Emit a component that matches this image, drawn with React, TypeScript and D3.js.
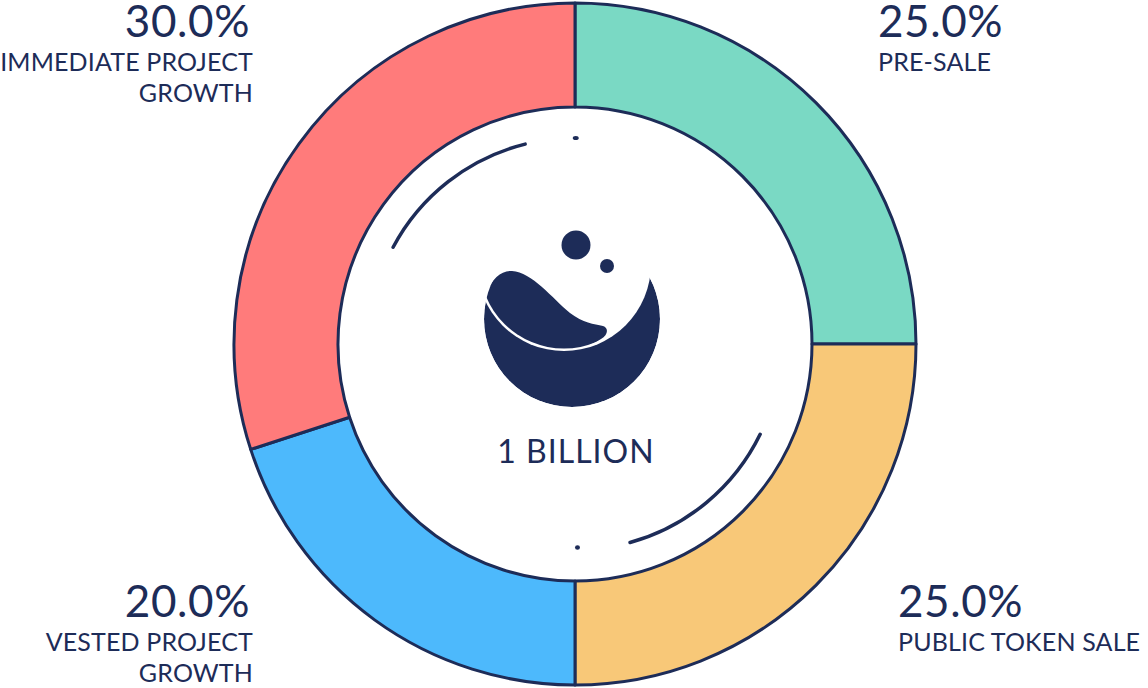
import React from "react";
import * as d3 from "d3";

const categories = ["PRE-SALE", "PUBLIC TOKEN SALE", "VESTED PROJECT GROWTH", "IMMEDIATE PROJECT GROWTH"];
const values = [25, 25, 20, 30];
const colors = ["#7ad9c4", "#f8c878", "#4db9fc", "#ff7b7b"];
const labelLines = [["PRE-SALE"], ["PUBLIC TOKEN SALE"], ["VESTED PROJECT", "GROWTH"], ["IMMEDIATE PROJECT", "GROWTH"]];
const centerText = "1 BILLION";

const W = 1148, H = 688;
const cx = 575, cy = 344;
const R = 341, r = 237;
const NAVY = "#1d2c58";
const FONT = "Lato, 'Open Sans', sans-serif";

// label placements per slice: [x, y of percent baseline, anchor]
const labelPos: [number, number, "start" | "end"][] = [
  [878, 37, "start"],
  [898, 617, "start"],
  [250, 617, "end"],
  [250, 37, "end"],
];

export default function App() {
  const total = d3.sum(values);
  const pie = d3.pie<number>().sort(null).startAngle(0).endAngle(2 * Math.PI);
  const arcs = pie(values);
  const arcGen = d3.arc<d3.PieArcDatum<number>>().innerRadius(r).outerRadius(R);
  const deg = (d: number) => (d * Math.PI) / 180;
  const pt = (a: number, rad: number) => [cx + rad * Math.sin(deg(a)), cy - rad * Math.cos(deg(a))];
  const decoArc = (a0: number, a1: number) => {
    const p = d3.path();
    p.arc(cx, cy, 206, deg(a0 - 90), deg(a1 - 90), false);
    return p.toString();
  };
  const fmt = d3.format(".1%");

  // logo geometry
  const bowl = { x: 572, y: 319, r: 88 };
  const cut = { x: 564, y: 264, r: 87 };

  return (
    <svg width={W} height={H} style={{ position: "absolute", left: 0, top: 0, background: "#fff" }}>
      <defs>
        <mask id="bowlMask" maskUnits="userSpaceOnUse" x={0} y={0} width={W} height={H}>
          <circle cx={bowl.x} cy={bowl.y} r={bowl.r} fill="#fff" />
          <circle cx={cut.x} cy={cut.y} r={cut.r} fill="#000" />
        </mask>
        <clipPath id="bowlClip">
          <circle cx={bowl.x} cy={bowl.y} r={bowl.r} />
        </clipPath>
        <clipPath id="dropClip">
          <circle cx={cut.x} cy={cut.y} r={cut.r - 2.5} />
        </clipPath>
      </defs>
      <g transform={`translate(${cx},${cy})`}>
        {arcs.map((a, i) => (
          <path key={i} d={arcGen(a) || ""} fill={colors[i]} stroke={NAVY} strokeWidth={3} strokeLinejoin="round" />
        ))}
      </g>
      {/* decorative arcs */}
      <path d={decoArc(-62, -14)} fill="none" stroke={NAVY} strokeWidth={3.5} strokeLinecap="round" />
      <path d={decoArc(116, 164.5)} fill="none" stroke={NAVY} strokeWidth={3.5} strokeLinecap="round" />
      <ellipse cx={pt(0.2, 206)[0]} cy={pt(0.2, 206)[1]} rx={3} ry={2} fill={NAVY} />
      <ellipse cx={pt(179.3, 203.5)[0]} cy={pt(179.3, 203.5)[1]} rx={2.5} ry={2.2} fill={NAVY} />
      {/* logo */}
      <circle cx={bowl.x} cy={bowl.y} r={bowl.r} fill={NAVY} mask="url(#bowlMask)" />
      <g clipPath="url(#bowlClip)">
        <g clipPath="url(#dropClip)">
          <path
            d="M 478,330 C 482,290 495,270 512,271 C 532,272 552,298 570,313 C 583,323 594,324 603,326 C 609,328 608,335 601,339 C 590,346 575,352 560,356 L 470,360 Z"
            fill={NAVY}
          />
        </g>
      </g>
      <circle cx={576} cy={245} r={14.5} fill={NAVY} />
      <circle cx={607} cy={266} r={7} fill={NAVY} />
      <text x={cx + 1} y={463} textAnchor="middle" fontFamily={FONT} fontSize={32} letterSpacing={1} fill={NAVY}>
        {centerText}
      </text>
      {arcs.map((a, i) => {
        const [x, y, anchor] = labelPos[i];
        return (
          <g key={"l" + i} fill={NAVY} fontFamily={FONT}>
            <text x={x} y={y} textAnchor={anchor} fontSize={44} letterSpacing={0.6}>
              {fmt(values[i] / total)}
            </text>
            {labelLines[i].map((ln, j) => (
              <text key={j} x={x + (anchor === "end" ? 3 : 0)} y={y + 34 + j * 31} textAnchor={anchor} fontSize={25} letterSpacing={0.15}>
                {ln}
              </text>
            ))}
          </g>
        );
      })}
    </svg>
  );
}
